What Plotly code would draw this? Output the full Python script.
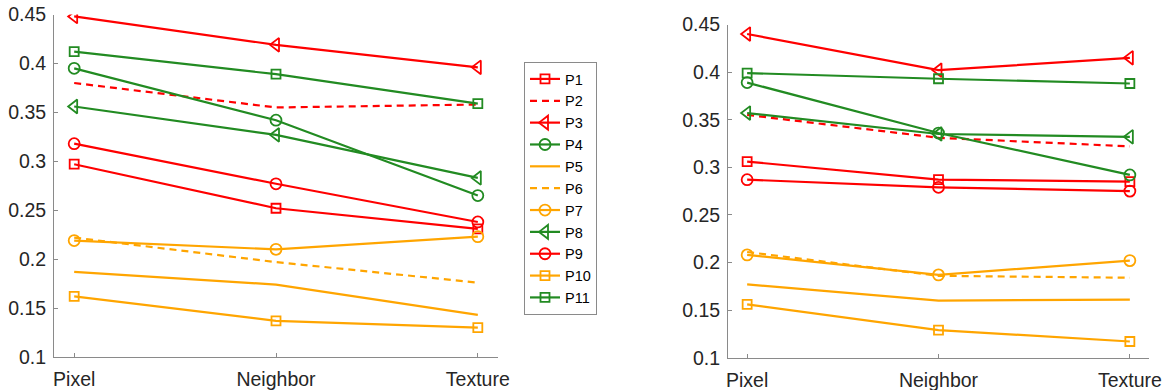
import plotly.graph_objects as go

# Feature categories on the x axis
categories = ["Pixel", "Neighbor", "Texture"]
x_pos = [1, 2, 3]

# Series names and values for the left panel
names = ["P1", "P2", "P3", "P4", "P5", "P6", "P7", "P8", "P9", "P10", "P11"]
left_P1 = [0.297, 0.252, 0.231]
left_P2 = [0.380, 0.355, 0.358]
left_P3 = [0.448, 0.419, 0.396]
left_P4 = [0.395, 0.342, 0.265]
left_P5 = [0.187, 0.174, 0.143]
left_P6 = [0.222, 0.197, 0.176]
left_P7 = [0.219, 0.210, 0.223]
left_P8 = [0.356, 0.327, 0.283]
left_P9 = [0.318, 0.277, 0.238]
left_P10 = [0.162, 0.137, 0.130]
left_P11 = [0.412, 0.389, 0.359]

# Series values for the right panel
right_P1 = [0.306, 0.287, 0.285]
right_P2 = [0.355, 0.331, 0.322]
right_P3 = [0.440, 0.402, 0.415]
right_P4 = [0.389, 0.336, 0.292]
right_P5 = [0.177, 0.160, 0.161]
right_P6 = [0.211, 0.186, 0.184]
right_P7 = [0.208, 0.187, 0.202]
right_P8 = [0.357, 0.335, 0.332]
right_P9 = [0.287, 0.279, 0.275]
right_P10 = [0.156, 0.129, 0.117]
right_P11 = [0.399, 0.393, 0.388]

y_tickvals = [0.1, 0.15, 0.2, 0.25, 0.3, 0.35, 0.4, 0.45]
y_ticktext = ["0.1", "0.15", "0.2", "0.25", "0.3", "0.35", "0.4", "0.45"]

left_data = [left_P1, left_P2, left_P3, left_P4, left_P5, left_P6,
             left_P7, left_P8, left_P9, left_P10, left_P11]
right_data = [right_P1, right_P2, right_P3, right_P4, right_P5, right_P6,
              right_P7, right_P8, right_P9, right_P10, right_P11]

RED = "#ff0000"
GREEN = "#228b22"
ORANGE = "#ffa500"

# (colour, dash, marker symbol or None)
styles = [
    (RED, "solid", "square-open"),
    (RED, "7px,5px", None),
    (RED, "solid", "triangle-left-open"),
    (GREEN, "solid", "circle-open"),
    (ORANGE, "solid", None),
    (ORANGE, "7px,5px", None),
    (ORANGE, "solid", "circle-open"),
    (GREEN, "solid", "triangle-left-open"),
    (RED, "solid", "circle-open"),
    (ORANGE, "solid", "square-open"),
    (GREEN, "solid", "square-open"),
]
marker_sizes = {"square-open": 9, "circle-open": 11, "triangle-left-open": 12}

fig = go.Figure()

for panel, (data, xa, ya) in enumerate([(left_data, "x", "y"), (right_data, "x2", "y2")]):
    for name, vals, (color, dash, sym) in zip(names, data, styles):
        mode = "lines+markers" if sym else "lines"
        marker = dict(symbol=sym, size=marker_sizes[sym], color=color,
                      line=dict(color=color, width=1.8)) if sym else None
        fig.add_trace(go.Scatter(
            x=x_pos, y=vals, mode=mode, name=name,
            line=dict(color=color, width=2.2, dash=dash),
            marker=marker, xaxis=xa, yaxis=ya,
            showlegend=(panel == 0), legendgroup=name,
        ))

FONT = "Liberation Sans, Arial, Helvetica, sans-serif"
AXIS_GRAY = "#8a8a8a"
TEXT = "#262626"

axis_common = dict(
    showline=True, linecolor=AXIS_GRAY, linewidth=1,
    ticks="inside", ticklen=4, tickcolor=AXIS_GRAY, tickwidth=1,
    showgrid=False, zeroline=False, mirror=False, automargin=False,
    tickfont=dict(family=FONT, size=19.5, color=TEXT),
)

xaxis_cfg = dict(axis_common, range=[0.9, 3.1], tickvals=x_pos, ticktext=categories,
                 ticklabelstandoff=5)
yaxis_cfg = dict(axis_common, range=[0.1, 0.45], tickvals=y_tickvals, ticktext=y_ticktext,
                 ticklabelstandoff=3)

fig.update_layout(
    template="none",
    width=1168, height=390,
    margin=dict(l=0, r=0, t=0, b=0, pad=0),
    paper_bgcolor="white", plot_bgcolor="white",
    xaxis=dict(xaxis_cfg, domain=[54 / 1168, 498 / 1168], anchor="y"),
    yaxis=dict(yaxis_cfg, domain=[1 - 357 / 390, 1 - 14.5 / 390], anchor="x"),
    xaxis2=dict(xaxis_cfg, domain=[728 / 1168, 1149 / 1168], anchor="y2"),
    yaxis2=dict(yaxis_cfg, domain=[1 - 357.7 / 390, 1 - 24.5 / 390], anchor="x2"),
    legend=dict(
        x=524 / 1168, y=1 - 62 / 390, xanchor="left", yanchor="top",
        bordercolor=AXIS_GRAY, borderwidth=1, bgcolor="white",
        font=dict(family=FONT, size=14.5, color="black"),
        tracegroupgap=0, itemwidth=30,
    ),
    showlegend=True,
)

fig.write_html("out.html")
